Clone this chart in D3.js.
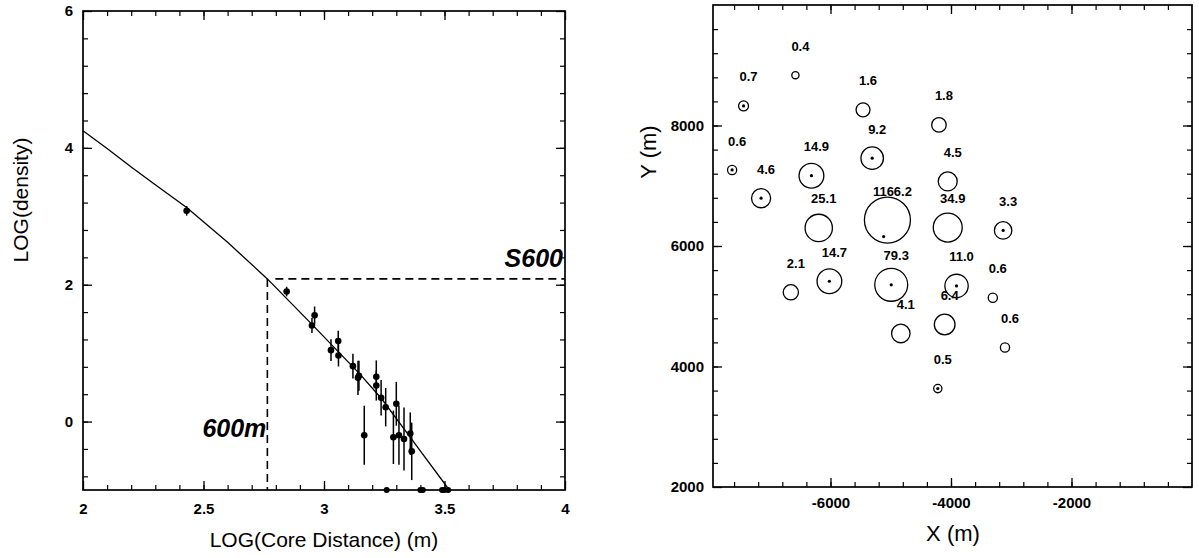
<!DOCTYPE html>
<html>
<head>
<meta charset="utf-8">
<script src="https://cdn.jsdelivr.net/npm/d3@7"></script>
<style>
  body { margin: 0; background: #fff; }
  svg { font-family: "Liberation Sans", Arial, Helvetica, sans-serif; }
</style>
</head>
<body>
<script>
// ---- left panel: lateral distribution ----
const fitLogR   = [2.00, 2.10, 2.20, 2.30, 2.43, 2.60, 2.765, 2.95, 3.15, 3.24, 3.385, 3.52];
const fitLogRho = [4.25, 3.99, 3.72, 3.46, 3.13, 2.62, 2.085, 1.42, 0.69, 0.33, -0.36, -1.00];

const logR   = [2.430, 2.845, 2.950, 2.961, 3.029, 3.059, 3.060, 3.120, 3.141, 3.145, 3.167,
                3.217, 3.217, 3.237, 3.256, 3.300, 3.288, 3.311, 3.332, 3.358, 3.364];
const logRho = [3.08, 1.90, 1.405, 1.552, 1.044, 1.176, 0.966, 0.81, 0.64, 0.67, -0.20,
                0.654, 0.527, 0.347, 0.21, 0.26, -0.23, -0.20, -0.254, -0.176, -0.435];
const logErr = [0.07, 0.07, 0.11, 0.13, 0.16, 0.15, 0.16, 0.18, 0.25, 0.22, 0.43,
                0.24, 0.22, 0.26, 0.28, 0.32, 0.39, 0.43, 0.46, 0.31, 0.42];
// detectors with no particles, drawn on the floor of the plot
const floorLogR = [3.26, 3.40, 3.41, 3.49, 3.50, 3.515];

const r600 = 2.765, s600 = 2.085;
const xTicksL = [2, 2.5, 3, 3.5, 4];
const yTicksL = [0, 2, 4, 6];

// ---- right panel: detector map ----
const stX = [-6582, -7443, -5460, -4200, -7633, -5308, -6316, -4054, -7152, -6195, -5055,
             -4054, -3135, -6658, -6018, -4992, -3908, -3306, -4833, -4105, -3104, -4219];
const stY = [8836, 8325, 8260, 8010, 7262, 7458, 7167, 7072, 6793, 6300, 6431,
             6306, 6258, 5231, 5415, 5356, 5338, 5142, 4548, 4697, 4316, 3633];
const stLabel = ["0.4", "0.7", "1.6", "1.8", "0.6", "9.2", "14.9", "4.5", "4.6", "25.1", "1166.2",
                 "34.9", "3.3", "2.1", "14.7", "79.3", "11.0", "0.6", "4.1", "6.4", "0.6", "0.5"];
const stDot = [0, 1, 0, 0, 1, 1, 1, 0, 1, 0, 0, 0, 1, 0, 1, 1, 1, 0, 0, 0, 0, 1];
const coreX = [-5118], coreY = [6157];

const xTicksR = [-6000, -4000, -2000];
const yTicksR = [2000, 4000, 6000, 8000];

const W = 1199, H = 558;
const svg = d3.select('body').append('svg').attr('width', W).attr('height', H);

// frame with inward ticks on all four sides
function drawFrame(x, y, o) {
    const [x0, x1] = x.range();
    const [y0, y1] = y.range();
    const sides = [
        { make: d3.axisBottom, s: x, t: `translate(0,${y0})`, lab: true },
        { make: d3.axisTop, s: x, t: `translate(0,${y1})` },
        { make: d3.axisLeft, s: y, t: `translate(${x0},0)`, lab: true },
        { make: d3.axisRight, s: y, t: `translate(${x1},0)` }
    ];
    sides.forEach(side => {
        const isX = side.s === x;
        svg.append('g')
            .attr('transform', side.t)
            .call(side.make(side.s).tickValues(isX ? o.xMinor : o.yMinor).tickSize(-5).tickFormat(''))
            .call(g => g.select('.domain').remove())
            .selectAll('line').attr('stroke-width', 1.2);

        const g = svg.append('g')
            .attr('transform', side.t)
            .call(side.make(side.s)
                .tickValues(isX ? o.xMajor : o.yMajor)
                .tickSize(-9)
                .tickPadding(isX ? o.padX : o.padY)
                .tickFormat(side.lab ? (isX ? o.fmtX : o.fmtY) : ''));
        g.select('.domain').remove();
        g.selectAll('line').attr('stroke-width', 1.3);
        g.attr('font-family', null).attr('font-size', o.fontSize).attr('font-weight', 'bold');
    });

    svg.append('rect')
        .attr('x', x0).attr('y', y1)
        .attr('width', x1 - x0).attr('height', y0 - y1)
        .attr('fill', 'none').attr('stroke', '#000').attr('stroke-width', 1.7);
}

// ================= left panel =================
const xL = d3.scaleLinear().domain([2, 4]).range([83, 565]);
const yL = d3.scaleLinear().domain([-1, 6]).range([490, 11]);

drawFrame(xL, yL, {
    xMajor: xTicksL, yMajor: yTicksL,
    xMinor: d3.range(2.1, 4, 0.1), yMinor: d3.range(-0.8, 6, 0.4),
    fmtX: d => String(d), fmtY: d => String(d),
    padX: 13, padY: 10, fontSize: 15
});

// fit
const fit = fitLogR.map((v, i) => [v, fitLogRho[i]]);
svg.append('path')
    .datum(fit)
    .attr('fill', 'none')
    .attr('stroke', '#000')
    .attr('stroke-width', 1.3)
    .attr('d', d3.line().x(d => xL(d[0])).y(d => yL(d[1])));

// S600 guide lines
svg.append('line')
    .attr('x1', xL(r600)).attr('x2', xL(r600))
    .attr('y1', yL(s600)).attr('y2', yL(-1))
    .attr('stroke', '#000').attr('stroke-width', 1.6).attr('stroke-dasharray', '8,5');
svg.append('line')
    .attr('x1', xL(r600) + 8).attr('x2', xL(4))
    .attr('y1', yL(s600)).attr('y2', yL(s600))
    .attr('stroke', '#000').attr('stroke-width', 1.6).attr('stroke-dasharray', '8,5');

const pts = logR.map((v, i) => ({ x: v, y: logRho[i], e: logErr[i] }));
svg.append('g').selectAll('line')
    .data(pts).enter().append('line')
    .attr('x1', d => xL(d.x)).attr('x2', d => xL(d.x))
    .attr('y1', d => yL(d.y - d.e)).attr('y2', d => yL(d.y + d.e))
    .attr('stroke', '#000').attr('stroke-width', 1.5);
svg.append('g').selectAll('circle')
    .data(pts).enter().append('circle')
    .attr('cx', d => xL(d.x)).attr('cy', d => yL(d.y))
    .attr('r', 3.3).attr('fill', '#000');
svg.append('g').selectAll('circle')
    .data(floorLogR).enter().append('circle')
    .attr('cx', d => xL(d)).attr('cy', yL(-1))
    .attr('r', 3).attr('fill', '#000');

svg.append('text')
    .attr('x', xL(4) - 2).attr('y', yL(s600) - 12)
    .attr('text-anchor', 'end')
    .attr('font-size', 25).attr('font-weight', 'bold').attr('font-style', 'italic')
    .text('S600');
svg.append('text')
    .attr('x', xL(r600) - 1).attr('y', 437)
    .attr('text-anchor', 'end')
    .attr('font-size', 25).attr('font-weight', 'bold').attr('font-style', 'italic')
    .text('600m');

svg.append('text')
    .attr('x', 324).attr('y', 547)
    .attr('text-anchor', 'middle').attr('font-size', 21)
    .text('LOG(Core Distance) (m)');
svg.append('text')
    .attr('transform', 'translate(28,200) rotate(-90)')
    .attr('text-anchor', 'middle').attr('font-size', 21)
    .text('LOG(density)');

// ================= right panel =================
const xR = d3.scaleLinear().domain([-7950, 0]).range([713, 1192]);
const yR = d3.scaleLinear().domain([2000, 10000]).range([487, 5]);
const rR = d3.scaleLog().domain([0.4, 1166.2]).range([3.6, 23]);

drawFrame(xR, yR, {
    xMajor: xTicksR, yMajor: yTicksR,
    xMinor: d3.range(-7600, 0, 400), yMinor: d3.range(2400, 10000, 400),
    fmtX: d => String(d), fmtY: d => String(d),
    padX: 10, padY: 9, fontSize: 15
});

const stations = stX.map((v, i) => ({
    x: v, y: stY[i], label: stLabel[i], rho: +stLabel[i], dot: stDot[i]
}));

svg.append('g').selectAll('circle')
    .data(stations).enter().append('circle')
    .attr('cx', d => xR(d.x)).attr('cy', d => yR(d.y))
    .attr('r', d => rR(d.rho))
    .attr('fill', 'none').attr('stroke', '#000').attr('stroke-width', 1.3);

svg.append('g').selectAll('circle')
    .data(stations.filter(d => d.dot)).enter().append('circle')
    .attr('cx', d => xR(d.x)).attr('cy', d => yR(d.y))
    .attr('r', 1.6).attr('fill', '#000');

svg.append('g').selectAll('circle')
    .data(coreX).enter().append('circle')
    .attr('cx', d => xR(d)).attr('cy', (d, i) => yR(coreY[i]))
    .attr('r', 1.6).attr('fill', '#000');

svg.append('g').selectAll('text')
    .data(stations).enter().append('text')
    .attr('x', d => xR(d.x) + 5).attr('y', d => yR(d.y) - 29)
    .attr('dy', '0.35em')
    .attr('text-anchor', 'middle')
    .attr('font-size', 13).attr('font-weight', 'bold')
    .text(d => d.label);

svg.append('text')
    .attr('x', 953).attr('y', 541)
    .attr('text-anchor', 'middle').attr('font-size', 22)
    .text('X (m)');
svg.append('text')
    .attr('transform', 'translate(656,152) rotate(-90)')
    .attr('text-anchor', 'middle').attr('font-size', 22)
    .text('Y (m)');
</script>
</body>
</html>
